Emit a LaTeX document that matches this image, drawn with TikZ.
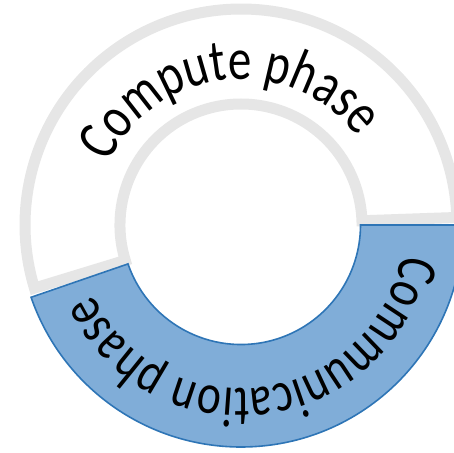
\documentclass[tikz,border=0pt]{standalone}
\usepackage{fontspec}
\setmainfont{Carlito}
\usetikzlibrary{decorations.text}

\definecolor{ringgray}{RGB}{230,230,230}
\definecolor{commfill}{RGB}{128,173,216}
\definecolor{commline}{RGB}{46,117,182}

\tikzset{
  computeband/.style={draw=ringgray, line width=11pt, fill=white},
  commband/.style={draw=commline, line width=1.6pt, fill=commfill},
  arclabel/.style 2 args={decoration={text effects along path,
      text/.expanded={#1}, text align=center,
      text effects/.cd, text along path,
      characters={font=\fontsize{#2}{50}\selectfont, yscale=1.25}},
    decorate}
}

\begin{document}
\begin{tikzpicture}[x=1pt,y=1pt]
  \useasboundingbox (-241,-227) rectangle (213,225);
  \clip (-241,-227) rectangle (213,225);

  % compute phase: grey-outlined upper band
  \draw[computeband] (2:216) arc[start angle=2, end angle=197, radius=216]
    -- (197:121) arc[start angle=197, end angle=2, radius=121] -- cycle;

  % communication phase: blue lower band
  \draw[commband] (0:222) arc[start angle=0, end angle=-161, radius=222]
    -- (-161:119.5) arc[start angle=-161, end angle=0, radius=119.5] -- cycle;

  % curved labels, read clockwise with letter tops outward
  \path[arclabel={Compute phase}{47}] (166:146) arc[start angle=166, end angle=26, radius=146];
  \path[arclabel={Communication phase}{45.5}] (0:164) arc[start angle=0, end angle=-165, radius=164];
\end{tikzpicture}
\end{document}
